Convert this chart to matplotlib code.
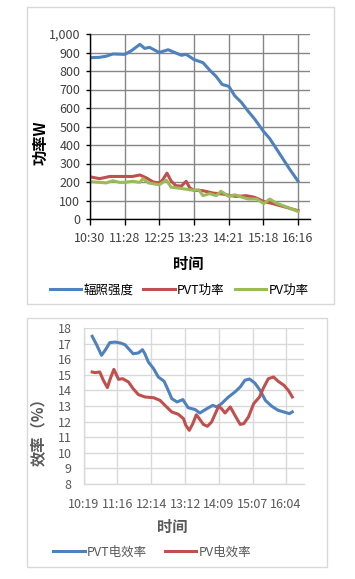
import matplotlib
matplotlib.use("Agg")
import matplotlib.pyplot as plt
from matplotlib.patches import Rectangle
from matplotlib.ticker import FuncFormatter


plt.rcParams["font.family"] = ["Noto Sans CJK SC", "DejaVu Sans"]

# top chart: minutes after 10:30
TOP_TICKS = [0, 58, 115, 173, 231, 288, 346]
TOP_LABELS = ["10:30", "11:28", "12:25", "13:23", "14:21", "15:18", "16:16"]

IRR_T = [0, 16, 27, 38, 58, 69, 83, 91, 99, 115, 130, 141, 152, 160, 173, 188, 199, 210,
         220, 231, 241, 252, 263, 274, 289, 299, 310, 321, 332, 346]
IRR_W = [872, 874, 880, 892, 890, 910, 944, 922, 928, 900, 915, 900, 885, 890, 862, 845, 805, 770,
         727, 717, 665, 630, 583, 540, 472, 435, 380, 325, 270, 205]

PVT_T = [0, 16, 33, 58, 71, 83, 94, 105, 116, 121, 128, 135, 143, 152, 160, 166, 173, 188,
         205, 221, 231, 243, 260, 274, 289, 304, 321, 346]
PVT_W = [228, 218, 230, 230, 230, 238, 222, 200, 195, 212, 248, 205, 180, 178, 204, 168, 155, 153,
         140, 135, 128, 122, 126, 117, 95, 83, 68, 45]

PV_T = [0, 16, 27, 38, 49, 58, 71, 83, 88, 97, 115, 127, 135, 152, 166, 173, 181, 188, 199,
        210, 218, 231, 241, 252, 263, 277, 289, 299, 310, 327, 346]
PV_W = [202, 198, 195, 207, 198, 198, 204, 198, 218, 195, 185, 210, 172, 165, 158, 155, 158, 126, 137,
        126, 150, 122, 131, 119, 108, 108, 83, 108, 86, 65, 41]

# bottom chart: minutes after 10:19
BOT_TICKS = [0, 57, 115, 173, 230, 288, 345]
BOT_LABELS = ["10:19", "11:16", "12:14", "13:12", "14:09", "15:07", "16:04"]

PVT_EFF_T = [14, 22, 30, 38, 44, 53, 62, 70, 76, 84, 93, 100, 104, 110, 119, 127, 137, 144, 150,
             159, 169, 178, 190, 198, 210, 220, 227, 235, 247, 258, 267, 275, 283, 292, 301, 310,
             321, 332, 344, 351, 356]
PVT_EFF = [17.47, 16.89, 16.25, 16.68, 17.06, 17.10, 17.04, 16.93, 16.68, 16.35, 16.40, 16.61, 16.35,
           15.82, 15.39, 14.86, 14.58, 14.00, 13.47, 13.26, 13.41, 12.89, 12.77, 12.55, 12.83, 13.04,
           12.94, 13.15, 13.58, 13.90, 14.22, 14.65, 14.73, 14.47, 14.00, 13.36, 12.98, 12.72, 12.59,
           12.51, 12.62]

PV_EFF_T = [14, 19, 27, 33, 40, 44, 51, 59, 66, 76, 84, 93, 104, 119, 130, 140, 150, 161, 170, 174,
            180, 186, 192, 197, 204, 211, 218, 230, 235, 241, 250, 258, 267, 273, 281, 290, 300, 307,
            315, 324, 332, 342, 350, 356]
PV_EFF = [15.18, 15.14, 15.18, 14.65, 14.18, 14.65, 15.35, 14.71, 14.75, 14.54, 14.11, 13.73, 13.58,
          13.53, 13.36, 12.98, 12.62, 12.47, 12.19, 11.76, 11.44, 11.87, 12.44, 12.19, 11.82, 11.70,
          11.97, 12.98, 12.83, 12.55, 12.94, 12.40, 11.82, 11.87, 12.29, 13.15, 13.58, 14.18, 14.75,
          14.86, 14.58, 14.32, 13.96, 13.58]

BLUE = "#4F81BD"
RED = "#C0504D"
GREEN = "#9BBB59"

W, H = 355, 579


def frac(x0, y0, x1, y1):
    # pixel box (top-left origin) -> figure fraction [left, bottom, width, height]
    return [x0 / W, 1 - y1 / H, (x1 - x0) / W, (y1 - y0) / H]


fig = plt.figure(figsize=(W / 100, H / 100), dpi=100)
fig.patch.set_facecolor("white")

for box in [(27, 7, 334, 304), (27, 318, 327, 567)]:
    fig.patches.append(Rectangle((box[0] / W, 1 - box[3] / H), (box[2] - box[0]) / W, (box[3] - box[1]) / H,
                                 transform=fig.transFigure, fill=False, edgecolor="#d9d9d9", linewidth=1))

# ---- top chart: power ----
ax1 = fig.add_axes(frac(90, 34, 310, 219))
ax1.plot(IRR_T, IRR_W, color=BLUE, linewidth=2.2, label="辐照强度")
ax1.plot(PVT_T, PVT_W, color=RED, linewidth=2.2, label="PVT功率")
ax1.plot(PV_T, PV_W, color=GREEN, linewidth=2.2, label="PV功率")
ax1.set_xlim(0, 366)
ax1.set_ylim(0, 1000)
ax1.set_yticks(range(0, 1001, 100))
ax1.yaxis.set_major_formatter(FuncFormatter(lambda v, p: f"{int(v):,}"))
ax1.set_xticks(TOP_TICKS)
ax1.set_xticklabels(TOP_LABELS)
ax1.grid(True, color="#868686", linewidth=1)
ax1.set_axisbelow(True)
for side in ["top", "right"]:
    ax1.spines[side].set_visible(False)
for side in ["left", "bottom"]:
    ax1.spines[side].set_color("black")
    ax1.spines[side].set_linewidth(1)
ax1.tick_params(axis="x", direction="out", length=4, width=1, pad=5, labelsize=9, labelcolor="#404040")
ax1.tick_params(axis="y", direction="out", length=3, width=1, pad=4, labelsize=9, labelcolor="#404040")
ax1.set_ylabel("功率W", fontsize=11, fontweight="bold")
ax1.yaxis.set_label_coords(-0.191, 0.41)
ax1.set_xlabel("时间", fontsize=11, fontweight="bold")
ax1.xaxis.set_label_coords(0.445, -0.20)
ax1.legend(loc="center", bbox_to_anchor=(0.405, -0.384), ncol=3, frameon=False, fontsize=9,
           handlelength=2.5, handletextpad=0.2, columnspacing=0.8)

# ---- bottom chart: efficiency ----
ax2 = fig.add_axes(frac(84, 328, 304, 484))
ax2.plot(PVT_EFF_T, PVT_EFF, color=BLUE, linewidth=2.2, label="PVT电效率")
ax2.plot(PV_EFF_T, PV_EFF, color=RED, linewidth=2.2, label="PV电效率")
ax2.set_xlim(0, 376)
ax2.set_ylim(8, 18)
ax2.set_yticks(range(8, 19))
ax2.set_xticks(BOT_TICKS)
ax2.set_xticklabels(BOT_LABELS)
ax2.grid(True, color="#d9d9d9", linewidth=1)
ax2.set_axisbelow(True)
for side in ["top", "right"]:
    ax2.spines[side].set_visible(False)
for side in ["left", "bottom"]:
    ax2.spines[side].set_color("#d9d9d9")
    ax2.spines[side].set_linewidth(1)
ax2.tick_params(axis="both", length=0, pad=10, labelsize=9, labelcolor="#595959")
ax2.tick_params(axis="y", pad=9)
ax2.set_ylabel("效率（%）", fontsize=11, fontweight="bold", color="#595959")
ax2.yaxis.set_label_coords(-0.168, 0.36)
ax2.set_xlabel("时间", fontsize=11, fontweight="bold", color="#595959")
ax2.xaxis.set_label_coords(0.40, -0.225)
leg = ax2.legend(loc="center", bbox_to_anchor=(0.31, -0.436), ncol=2, frameon=False, fontsize=9,
                 handlelength=2.5, handletextpad=0.2, columnspacing=1.4)
for t in leg.get_texts():
    t.set_color("#595959")

fig.savefig("out.png", dpi=100)
